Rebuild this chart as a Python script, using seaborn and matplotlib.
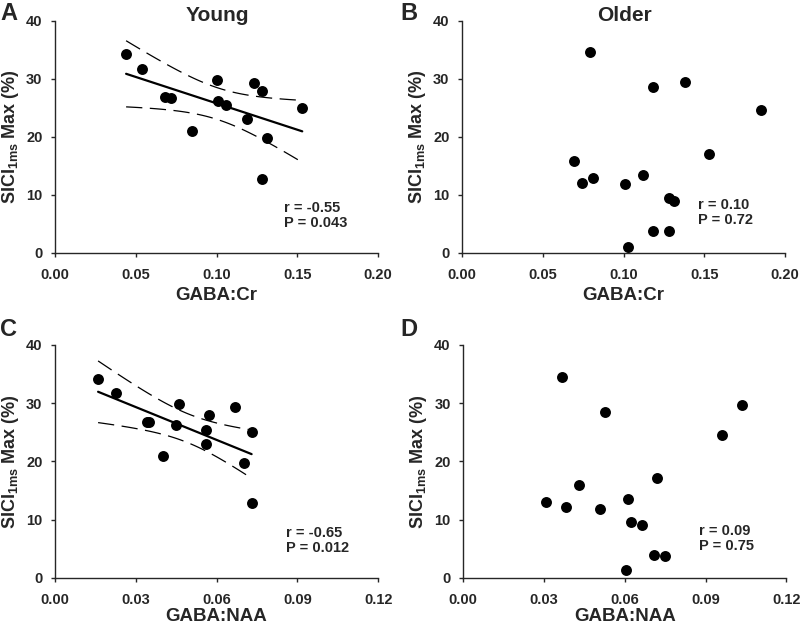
import numpy as np
import pandas as pd
import matplotlib
matplotlib.use('Agg')
import matplotlib.pyplot as plt
import seaborn as sns

# --- data ---
young_cr = [0.044, 0.054, 0.068, 0.072, 0.085, 0.100, 0.101, 0.106, 0.119, 0.123, 0.128, 0.131, 0.128, 0.153]
young_naa = [0.016, 0.0225, 0.034, 0.035, 0.040, 0.046, 0.045, 0.056, 0.057, 0.056, 0.067, 0.070, 0.073, 0.073]
young_sici = [34.2, 31.7, 26.8, 26.6, 21.0, 29.8, 26.2, 25.4, 23.0, 29.3, 27.9, 19.8, 12.8, 25.0]
young_sici_naa = [34.2, 31.7, 26.7, 26.7, 21.0, 29.8, 26.2, 25.4, 28.0, 23.0, 29.3, 19.8, 25.0, 12.9]

older_cr = [0.079, 0.069, 0.074, 0.081, 0.101, 0.103, 0.112, 0.118, 0.118, 0.128, 0.128, 0.131, 0.138, 0.153, 0.185]
older_sici = [34.6, 15.9, 12.1, 12.9, 11.9, 1.1, 13.5, 28.5, 3.8, 3.8, 9.4, 8.9, 29.5, 17.0, 24.6]
older_naa = [0.0367, 0.0528, 0.1034, 0.0961, 0.0718, 0.0431, 0.0306, 0.038, 0.0507, 0.0611, 0.0623, 0.0664, 0.0707, 0.075, 0.0604]
older_sici_naa = [34.5, 28.5, 29.6, 24.6, 17.1, 16.0, 13.0, 12.2, 11.9, 13.6, 9.5, 9.1, 3.9, 3.8, 1.3]

stats_text = ["r = -0.55\nP = 0.043", "r = 0.10\nP = 0.72", "r = -0.65\nP = 0.012", "r = 0.09\nP = 0.75"]
panel_letters = ["A", "B", "C", "D"]
x_labels = ["GABA:Cr", "GABA:Cr", "GABA:NAA", "GABA:NAA"]
x_ticks_cr = [0.00, 0.05, 0.10, 0.15, 0.20]
x_ticks_naa = [0.00, 0.03, 0.06, 0.09, 0.12]
y_ticks = [0, 10, 20, 30, 40]

sns.set_style("ticks")
plt.rcParams['font.family'] = ['Liberation Sans', 'DejaVu Sans']
plt.rcParams['font.weight'] = 'bold'
plt.rcParams['mathtext.fontset'] = 'custom'
plt.rcParams['mathtext.rm'] = 'Liberation Sans:bold'
plt.rcParams['mathtext.it'] = 'Liberation Sans:bold'
plt.rcParams['mathtext.bf'] = 'Liberation Sans:bold'


def ci_lines(x, y):
    # 95% confidence band of the fitted mean
    x = np.asarray(x)
    y = np.asarray(y)
    n = len(x)
    b, a = np.polyfit(x, y, 1)
    resid = y - (a + b * x)
    s = np.sqrt(np.sum(resid ** 2) / (n - 2))
    sxx = np.sum((x - x.mean()) ** 2)
    xs = np.linspace(x.min(), x.max() - 0.02 * (x.max() - x.min()), 100)
    se = s * np.sqrt(1.0 / n + (xs - x.mean()) ** 2 / sxx)
    t = 2.179  # t(0.975, df=12)
    yhat = a + b * xs
    return xs, yhat - t * se, yhat + t * se


fig = plt.figure(figsize=(8, 6.26), dpi=100)
positions = [
    [0.06875, 0.596, 0.404, 0.371],
    [0.5775, 0.596, 0.404, 0.371],
    [0.06875, 0.077, 0.404, 0.372],
    [0.579, 0.077, 0.404, 0.372],
]
panels = [
    (young_cr, young_sici, x_ticks_cr, True, 0.142, 8.9),
    (older_cr, older_sici, x_ticks_cr, False, 0.146, 9.5),
    (young_naa, young_sici_naa, x_ticks_naa, True, 0.0857, 8.9),
    (older_naa, older_sici_naa, x_ticks_naa, False, 0.0876, 9.3),
]

for i, (xv, yv, xt, fit, tx, ty) in enumerate(panels):
    ax = fig.add_axes(positions[i])
    df = pd.DataFrame({"x": xv, "y": yv})
    sns.scatterplot(data=df, x="x", y="y", ax=ax, color="black", s=62,
                    edgecolor="black", linewidth=0, zorder=3)
    if fit:
        sns.regplot(data=df, x="x", y="y", ax=ax, scatter=False, ci=None,
                    color="black", line_kws={"linewidth": 1.6})
        xs, lo, hi = ci_lines(xv, yv)
        for band in (lo, hi):
            ax.plot(xs, band, color="black", linewidth=0.9, dashes=(13, 6))

    ax.set_xlim(xt[0], xt[-1])
    ax.set_ylim(0, 40)
    ax.set_xticks(xt)
    ax.set_xticklabels([f"{v:.2f}" for v in xt])
    ax.set_yticks(y_ticks)
    ax.tick_params(labelsize=10.5, length=3, width=1)
    ax.tick_params(axis='x', pad=8)
    ax.tick_params(axis='y', pad=6)
    for lab in ax.get_xticklabels() + ax.get_yticklabels():
        lab.set_fontweight('bold')
    ax.set_xlabel(x_labels[i], fontsize=13.5, fontweight='bold')
    ax.set_ylabel(r"SICI$_{\mathrm{1ms}}$ Max (%)", fontsize=13, fontweight='bold')
    # bottom row sits right at the figure edge, pull its label up a touch
    ax.xaxis.set_label_coords(0.5, -0.145 if i < 2 else -0.128)
    ax.yaxis.set_label_coords(-0.105, 0.5)
    ax.text(tx, ty, stats_text[i], fontsize=10.5, fontweight='bold', va='top', ha='left',
            linespacing=1.1)
    sns.despine(ax=ax)
    for sp in ax.spines.values():
        sp.set_linewidth(1.0)

# panel letters and titles
fig.text(0.0, 0.997, "A", fontsize=17, fontweight='bold', va='top')
fig.text(0.5, 0.997, "B", fontsize=17, fontweight='bold', va='top')
fig.text(0.0, 0.492, "C", fontsize=17, fontweight='bold', va='top')
fig.text(0.5, 0.492, "D", fontsize=17, fontweight='bold', va='top')
fig.text(0.272, 0.976, "Young", fontsize=15, fontweight='bold', ha='center', va='center')
fig.text(0.781, 0.976, "Older", fontsize=15, fontweight='bold', ha='center', va='center')

fig.savefig("out.png", dpi=100)
plt.close(fig)
